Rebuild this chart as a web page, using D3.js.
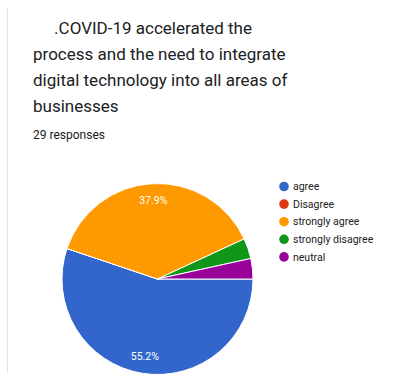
<!DOCTYPE html>
<html>
<head>
<meta charset="utf-8">
<script src="https://cdn.jsdelivr.net/npm/d3@7"></script>
<style>
  body { margin: 0; background: #fff; }
  svg { display: block; font-family: Roboto, Arial, sans-serif; }
</style>
</head>
<body>
<div id="chart"></div>
<script>
const width = 417;
const height = 381;

// survey data
const answers = ["agree", "Disagree", "strongly agree", "strongly disagree", "neutral"];
const counts = [16, 0, 11, 1, 1];
const colors = ["#3366cc", "#dc3912", "#ff9900", "#109618", "#990099"];
const titleLines = ["     .COVID-19 accelerated the", "process and the need to integrate", "digital technology into all areas of", "businesses"];
const responsesText = "29 responses";

const svg = d3.select("#chart")
  .append("svg")
  .attr("width", width)
  .attr("height", height);

// faint left border of the card
svg.append("line")
  .attr("x1", 7.5).attr("x2", 7.5)
  .attr("y1", 8).attr("y2", 373)
  .attr("stroke", "#e3e3e3")
  .attr("stroke-width", 1);

// title
svg.append("g")
  .selectAll("text")
  .data(titleLines)
  .enter()
  .append("text")
  .attr("x", 33)
  .attr("y", (d, i) => 34 + i * 26)
  .attr("xml:space", "preserve")
  .style("font-size", "17px")
  .style("fill", "#202124")
  .text(d => d);

svg.append("text")
  .attr("x", 33)
  .attr("y", 139)
  .style("font-size", "12px")
  .style("fill", "#202124")
  .text(responsesText);

// pie
const total = d3.sum(counts);
const data = answers.map((a, i) => ({ answer: a, value: counts[i], color: colors[i] }));

const pie = d3.pie()
  .sort(null)
  .value(d => d.value)
  .startAngle(Math.PI / 2)
  .endAngle(Math.PI / 2 + 2 * Math.PI);

const radius = 95.5;
const arc = d3.arc().innerRadius(0).outerRadius(radius);
const labelArc = d3.arc().innerRadius(radius * 0.82).outerRadius(radius * 0.82);

const pieGroup = svg.append("g").attr("transform", "translate(157.5, 279)");

const slices = pie(data);

pieGroup.selectAll("path")
  .data(slices)
  .enter()
  .append("path")
  .attr("d", arc)
  .attr("fill", d => d.data.color)
  .attr("stroke", "#fff")
  .attr("stroke-width", 1);

pieGroup.selectAll(".label")
  .data(slices.filter(d => d.data.value / total > 0.05))
  .enter()
  .append("text")
  .attr("class", "label")
  .attr("transform", d => `translate(${labelArc.centroid(d)})`)
  .attr("dy", "0.35em")
  .style("text-anchor", "middle")
  .style("font-size", "10.5px")
  .style("fill", "#fff")
  .text(d => (d.data.value / total * 100).toFixed(1) + "%");

// legend
const legend = svg.append("g")
  .selectAll("g")
  .data(data)
  .enter()
  .append("g")
  .attr("transform", (d, i) => `translate(284, ${186.5 + i * 17.6})`);

legend.append("circle")
  .attr("r", 4.8)
  .attr("fill", d => d.color);

legend.append("text")
  .attr("x", 9)
  .attr("dy", "0.35em")
  .style("font-size", "10.5px")
  .style("fill", "#222")
  .text(d => d.answer);
</script>
</body>
</html>
